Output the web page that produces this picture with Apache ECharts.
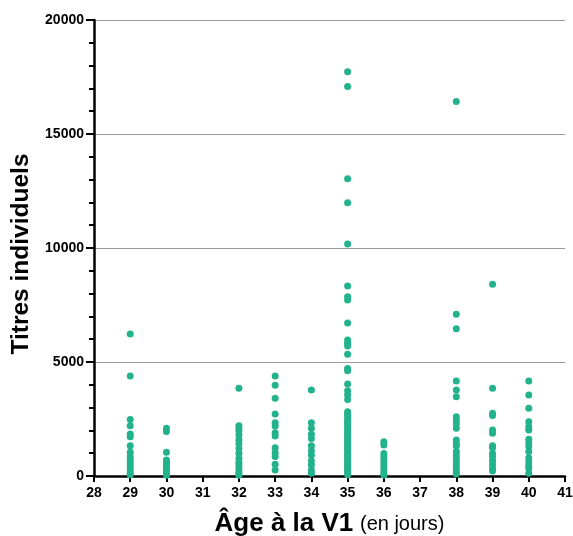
<!DOCTYPE html>
<html>

<head>
	<meta charset="UTF-8">
	<title></title>
	<style>
		html, body {
			margin: 0;
			padding: 0;
			background: #fff;
		}
		#chart {
			width: 573px;
			height: 536px;
		}
	</style>
	<script src="https://cdn.jsdelivr.net/npm/echarts@6/dist/echarts.min.js"></script>
</head>

<body>
	<div id="chart"></div>
	<script>
		// titres par âge (jours)
		var age29 = [6230, 4390, 2480, 2200, 1840, 1720, 1330, 1040, 850, 700, 560, 410, 260, 130, 50];
		var age30 = [2090, 1950, 1040, 700, 600, 480, 400, 300, 200, 100, 30];
		var age32 = [3850, 2200, 2100, 1970, 1800, 1580, 1430, 1210, 990, 770, 600, 480, 340, 200, 100, 30];
		var age33 = [4390, 3980, 3410, 2720, 2340, 2190, 1900, 1750, 1240, 1020, 850, 510, 260];
		var age34 = [3770, 2340, 2090, 1830, 1650, 1330, 1110, 920, 670, 480, 260, 120];
		var age35 = [17730, 17080, 13040, 11990, 10180, 8330, 7860, 7720, 6710, 5960, 5820, 5700, 5340,
			4720, 4620, 4040, 3740, 3550, 3360, 2820, 2710, 2620, 2480, 2390, 2310, 2190, 2080, 1990,
			1880, 1790, 1710, 1590, 1480, 1420, 1310, 1190, 1120, 990, 910, 820, 690, 610, 520, 410,
			330, 240, 150, 60];
		var age36 = [1500, 1360, 990, 850, 700, 560, 410, 260, 130, 40];
		var age38 = [16420, 7090, 6460, 4170, 3770, 3480, 2600, 2430, 2280, 2090, 1580, 1430, 1330,
			1070, 920, 770, 630, 480, 340, 190, 90];
		var age39 = [8410, 3850, 2750, 2650, 2020, 1870, 1330, 1240, 990, 850, 670, 510, 340, 220];
		var age40 = [4170, 3550, 2970, 2380, 2160, 2020, 1610, 1460, 1290, 1070, 800, 660, 480, 340, 120];

		var groups = [
			[29, age29], [30, age30], [32, age32], [33, age33], [34, age34], [35, age35],
			[36, age36], [38, age38], [39, age39], [40, age40]
		];

		var points = [];
		groups.forEach(function (g) {
			g[1].forEach(function (v) {
				points.push([g[0], v]);
			});
		});

		var font = 'Liberation Sans, Arial, sans-serif';

		var mychart = echarts.init(document.getElementById('chart'));
		mychart.setOption({
			animation: false,
			grid: {
				left: 94,
				right: 8,
				top: 20,
				bottom: 60,
				outerBoundsMode: 'none'
			},
			xAxis: {
				type: 'value',
				min: 28,
				max: 41,
				interval: 1,
				name: '{b|Âge à la V1}  {n|(en jours)}',
				nameLocation: 'middle',
				nameGap: 35,
				nameTextStyle: {
					rich: {
						b: {
							fontFamily: font,
							fontWeight: 'bold',
							fontSize: 26,
							color: '#000'
						},
						n: {
							fontFamily: font,
							fontSize: 20,
							color: '#000'
						}
					}
				},
				axisLine: {
					lineStyle: {
						color: '#000',
						width: 2.5
					}
				},
				axisTick: {
					length: 6,
					lineStyle: {
						color: '#000',
						width: 2
					}
				},
				axisLabel: {
					fontFamily: font,
					fontWeight: 'bold',
					fontSize: 14,
					color: '#000',
					margin: 10
				},
				splitLine: {
					show: false
				}
			},
			yAxis: {
				type: 'value',
				min: 0,
				max: 20000,
				interval: 5000,
				name: 'Titres individuels',
				nameLocation: 'middle',
				nameGap: 55,
				nameTextStyle: {
					fontFamily: font,
					fontWeight: 'bold',
					fontSize: 24.5,
					color: '#000',
					padding: [0, 12, 0, 0]
				},
				axisLine: {
					show: true,
					lineStyle: {
						color: '#000',
						width: 2.5
					}
				},
				axisTick: {
					show: true,
					length: 8,
					lineStyle: {
						color: '#000',
						width: 2
					}
				},
				minorTick: {
					show: true,
					splitNumber: 5,
					length: 5,
					lineStyle: {
						color: '#000',
						width: 2
					}
				},
				axisLabel: {
					fontFamily: font,
					fontWeight: 'bold',
					fontSize: 14,
					color: '#000',
					margin: 10,
					formatter: function (v) {
						return String(v);
					}
				},
				splitLine: {
					show: true,
					lineStyle: {
						color: '#9a9a9a',
						width: 1
					}
				}
			},
			series: [{
				type: 'scatter',
				data: points,
				symbol: 'circle',
				symbolSize: 7,
				clip: false,
				itemStyle: {
					color: '#22b38c',
					opacity: 1
				}
			}]
		});
	</script>
</body>

</html>
